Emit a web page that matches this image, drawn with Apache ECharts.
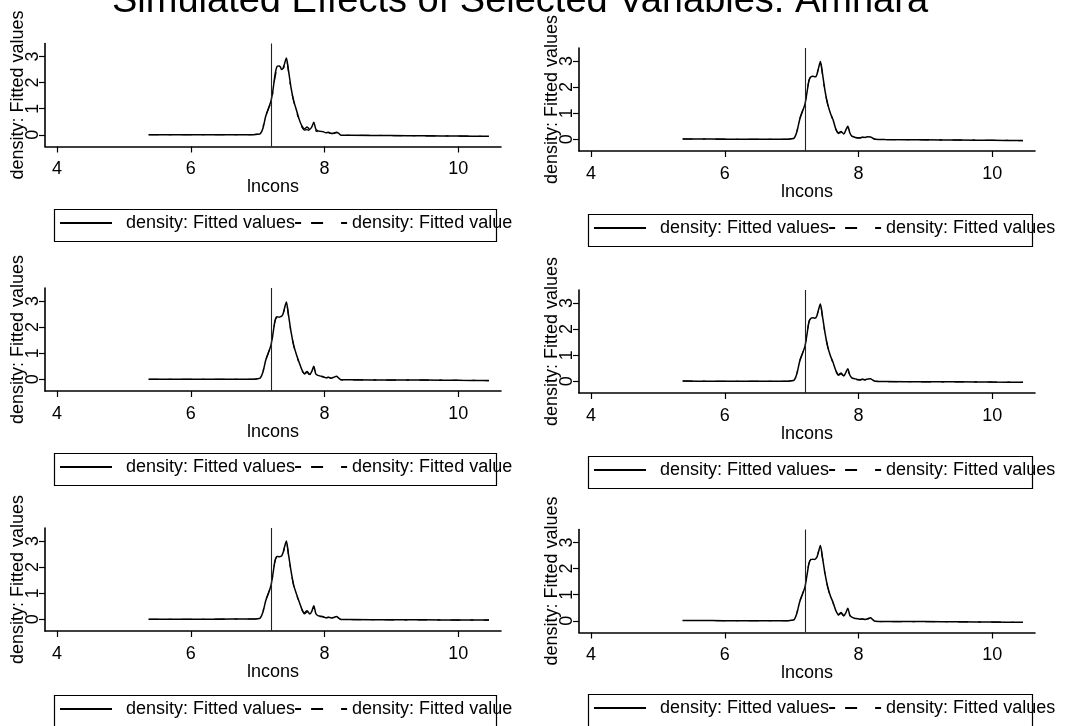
<!DOCTYPE html>
<html>
<head>
<meta charset="utf-8">
<script src="https://cdn.jsdelivr.net/npm/echarts@6/dist/echarts.min.js"></script>
<style>
html,body{margin:0;padding:0;background:#fff;}
#chart{width:1074px;height:726px;}
</style>
</head>
<body>
<div id="chart"></div>
<script>
// ---- data ----
const titleText = 'Simulated Effects of Selected Variables: Amhara';
const xAxisName = 'lncons';
const yAxisName = 'density: Fitted values';
const xTicks = [4, 6, 8, 10];
const yTicks = [0, 1, 2, 3];
const refLineX = 7.2;
const legendLeftCol = ['density: Fitted values', 'density: Fitted value'];
const legendRightCol = ['density: Fitted values', 'density: Fitted values'];

const xVals = [5.37, 5.8, 6.2, 6.6, 6.9, 7.0, 7.04, 7.08, 7.12, 7.16, 7.2, 7.23, 7.26, 7.29, 7.32, 7.34, 7.36, 7.38, 7.40, 7.43, 7.46, 7.50, 7.54, 7.58, 7.62, 7.66, 7.70, 7.74, 7.78, 7.81, 7.84, 7.87, 7.90, 7.94, 7.98, 8.02, 8.06, 8.10, 8.14, 8.18, 8.21, 8.25, 8.4, 9.0, 9.5, 10.0, 10.46];

const p1Solid = [0, 0, 0, 0, 0, 0.02, 0.04, 0.25, 0.7, 1.0, 1.3, 1.72, 2.3, 2.62, 2.64, 2.6, 2.5, 2.55, 2.7, 2.94, 2.5, 1.8, 1.3, 0.95, 0.6, 0.35, 0.22, 0.3, 0.2, 0.3, 0.48, 0.22, 0.15, 0.13, 0.12, 0.08, 0.1, 0.05, 0.06, 0.1, 0.06, -0.02, -0.02, -0.03, -0.04, -0.05, -0.06];
const p1Dash = [0, 0, 0, 0, 0, 0.03, 0.06, 0.3, 0.72, 0.98, 1.25, 1.65, 2.2, 2.45, 2.42, 2.4, 2.45, 2.5, 2.65, 2.9, 2.45, 1.75, 1.28, 0.9, 0.55, 0.3, 0.18, 0.2, 0.15, 0.18, 0.3, 0.15, 0.12, 0.1, 0.1, 0.07, 0.08, 0.05, 0.05, 0.08, 0.04, -0.02, -0.02, -0.03, -0.04, -0.05, -0.06];

const p2Solid = [0.01, 0.01, 0, 0, 0, 0.02, 0.05, 0.3, 0.75, 1.05, 1.35, 1.8, 2.25, 2.4, 2.42, 2.4, 2.4, 2.5, 2.7, 2.98, 2.55, 1.85, 1.35, 1.0, 0.75, 0.4, 0.25, 0.3, 0.2, 0.35, 0.5, 0.25, 0.12, 0.08, 0.06, 0.05, 0.08, 0.07, 0.1, 0.09, 0.05, 0.0, -0.01, -0.02, -0.03, -0.04, -0.05];
const p2Dash = [0.01, 0.01, 0, 0, 0, 0.02, 0.05, 0.32, 0.78, 1.08, 1.38, 1.82, 2.28, 2.42, 2.44, 2.42, 2.42, 2.52, 2.72, 2.96, 2.52, 1.82, 1.32, 0.98, 0.72, 0.38, 0.22, 0.26, 0.18, 0.3, 0.45, 0.22, 0.1, 0.07, 0.05, 0.05, 0.07, 0.06, 0.09, 0.08, 0.04, 0.0, -0.01, -0.02, -0.03, -0.04, -0.05];

const p3Solid = [0, 0, 0, 0, 0, 0.02, 0.05, 0.28, 0.72, 1.0, 1.32, 1.75, 2.25, 2.4, 2.38, 2.4, 2.42, 2.5, 2.7, 2.96, 2.5, 1.82, 1.3, 0.95, 0.65, 0.38, 0.22, 0.3, 0.18, 0.3, 0.5, 0.2, 0.15, 0.12, 0.1, 0.06, 0.08, 0.04, 0.08, 0.12, 0.05, -0.02, -0.02, -0.03, -0.03, -0.04, -0.05];
const p3Dash = [0, 0, 0, 0, 0, 0.02, 0.06, 0.3, 0.74, 1.02, 1.3, 1.72, 2.22, 2.36, 2.36, 2.38, 2.4, 2.48, 2.68, 2.93, 2.47, 1.8, 1.28, 0.93, 0.62, 0.35, 0.2, 0.26, 0.16, 0.26, 0.44, 0.18, 0.13, 0.1, 0.09, 0.06, 0.07, 0.04, 0.07, 0.1, 0.04, -0.02, -0.02, -0.03, -0.03, -0.04, -0.05];

const p4Solid = [0.01, 0, 0, 0, 0, 0.02, 0.05, 0.3, 0.76, 1.05, 1.35, 1.8, 2.28, 2.42, 2.44, 2.42, 2.43, 2.52, 2.72, 2.96, 2.52, 1.85, 1.33, 0.98, 0.72, 0.42, 0.25, 0.32, 0.2, 0.33, 0.48, 0.24, 0.13, 0.1, 0.07, 0.05, 0.08, 0.06, 0.09, 0.1, 0.05, 0.0, -0.01, -0.02, -0.02, -0.03, -0.04];
const p4Dash = [0.01, 0, 0, 0, 0, 0.02, 0.05, 0.32, 0.78, 1.07, 1.37, 1.82, 2.3, 2.44, 2.46, 2.44, 2.45, 2.54, 2.74, 2.94, 2.5, 1.83, 1.31, 0.96, 0.7, 0.4, 0.23, 0.28, 0.18, 0.29, 0.43, 0.21, 0.11, 0.09, 0.06, 0.05, 0.07, 0.05, 0.08, 0.09, 0.04, 0.0, -0.01, -0.02, -0.02, -0.03, -0.04];

const p5Solid = [0, 0, 0, 0.01, 0.01, 0.02, 0.05, 0.28, 0.7, 0.98, 1.3, 1.75, 2.25, 2.41, 2.4, 2.41, 2.43, 2.55, 2.75, 3.0, 2.52, 1.85, 1.3, 0.98, 0.68, 0.4, 0.24, 0.33, 0.2, 0.3, 0.52, 0.22, 0.14, 0.12, 0.1, 0.06, 0.08, 0.05, 0.07, 0.11, 0.05, -0.01, -0.01, -0.02, -0.02, -0.03, -0.03];
const p5Dash = [0, 0, 0, 0.01, 0.01, 0.02, 0.06, 0.3, 0.72, 1.0, 1.28, 1.72, 2.22, 2.38, 2.38, 2.4, 2.42, 2.53, 2.72, 2.97, 2.5, 1.82, 1.28, 0.95, 0.65, 0.37, 0.21, 0.28, 0.17, 0.26, 0.45, 0.19, 0.12, 0.1, 0.09, 0.06, 0.07, 0.05, 0.06, 0.09, 0.04, -0.01, -0.01, -0.02, -0.02, -0.03, -0.03];

const p6Solid = [0.01, 0.01, 0, 0, 0, 0.02, 0.05, 0.3, 0.72, 1.0, 1.3, 1.75, 2.2, 2.35, 2.36, 2.35, 2.38, 2.45, 2.62, 2.89, 2.45, 1.8, 1.3, 0.95, 0.7, 0.4, 0.24, 0.32, 0.2, 0.3, 0.48, 0.22, 0.14, 0.1, 0.08, 0.06, 0.07, 0.05, 0.08, 0.12, 0.05, -0.02, -0.03, -0.03, -0.04, -0.05, -0.06];
const p6Dash = [0.01, 0.01, 0, 0, 0, 0.02, 0.05, 0.32, 0.74, 1.02, 1.32, 1.77, 2.22, 2.37, 2.38, 2.37, 2.4, 2.47, 2.64, 2.87, 2.43, 1.78, 1.28, 0.93, 0.68, 0.38, 0.22, 0.28, 0.18, 0.27, 0.42, 0.2, 0.12, 0.09, 0.07, 0.06, 0.06, 0.05, 0.07, 0.1, 0.04, -0.02, -0.03, -0.03, -0.04, -0.05, -0.06];

const panelData = [
  [p1Solid, p1Dash], [p2Solid, p2Dash],
  [p3Solid, p3Dash], [p4Solid, p4Dash],
  [p5Solid, p5Dash], [p6Solid, p6Dash]
];

// ---- layout ----
const FONT = '"Liberation Sans", Arial, Helvetica, sans-serif';
const panels = [
  {left: 45,  top: 43.5, legendLeft: 52,  legendTop: 207, col: 0},
  {left: 579, top: 48,   legendLeft: 586, legendTop: 212, col: 1},
  {left: 45,  top: 288,  legendLeft: 52,  legendTop: 451, col: 0},
  {left: 579, top: 290,  legendLeft: 586, legendTop: 454, col: 1},
  {left: 45,  top: 528,  legendLeft: 52,  legendTop: 693, col: 0},
  {left: 579, top: 529.5,legendLeft: 586, legendTop: 692, col: 1}
];
const GRID_W = 456, GRID_H = 103;
const FRAME_W = [442, 444], FRAME_H = 32;
const SOLID_ICON = 'path://M0,0h52v2h-52z';
const DASH_ICON = 'path://M0,0h6v2h-6z M16,0h12v2h-12z M46,0h6v2h-6z';

const grid = [], xAxis = [], yAxis = [], series = [], legend = [], graphic = [];
panels.forEach((p, i) => {
  grid.push({left: p.left, top: p.top, width: GRID_W, height: GRID_H, containLabel: false});
  xAxis.push({
    type: 'value', gridIndex: i, min: 3.82, max: 10.64,
    name: xAxisName, nameLocation: 'middle', nameGap: 32, nameMoveOverlap: false,
    nameTextStyle: {fontSize: 18, color: '#000', fontFamily: FONT},
    axisLine: {show: true, onZero: false, lineStyle: {color: '#000', width: 1.6}},
    axisTick: {show: true, length: 6, customValues: xTicks, lineStyle: {color: '#000', width: 1.2}},
    axisLabel: {show: true, customValues: xTicks, fontSize: 18, color: '#000', margin: 14, fontFamily: FONT},
    splitLine: {show: false}
  });
  yAxis.push({
    type: 'value', gridIndex: i, min: -0.45, max: 3.5,
    name: yAxisName, nameLocation: 'middle', nameGap: 18, nameMoveOverlap: false,
    nameTextStyle: {fontSize: 18, color: '#000', fontFamily: FONT},
    axisLine: {show: true, onZero: false, lineStyle: {color: '#000', width: 1.6}},
    axisTick: {show: true, length: 6, customValues: yTicks, lineStyle: {color: '#000', width: 1.2}},
    axisLabel: {show: true, customValues: yTicks, rotate: 90, fontSize: 18, color: '#000', margin: 3, fontFamily: FONT},
    splitLine: {show: false}
  });
  const [solid, dash] = panelData[i];
  const nA = 'fitA' + i, nB = 'fitB' + i;
  series.push({
    name: nA, type: 'line', xAxisIndex: i, yAxisIndex: i,
    data: xVals.map((x, k) => [x, solid[k]]),
    showSymbol: false, symbol: 'none', smooth: 0.25,
    lineStyle: {color: '#000', width: 1.5, type: 'solid'},
    itemStyle: {color: '#000'},
    animation: false, silent: true,
    markLine: {
      silent: true, symbol: ['none', 'none'], animation: false,
      label: {show: false},
      lineStyle: {color: '#222', width: 1.1, type: 'solid'},
      data: [{xAxis: refLineX}]
    }
  });
  series.push({
    name: nB, type: 'line', xAxisIndex: i, yAxisIndex: i,
    data: xVals.map((x, k) => [x, dash[k]]),
    showSymbol: false, symbol: 'none', smooth: 0.25,
    lineStyle: {color: '#000', width: 1.2, type: [10, 10, 3, 10]},
    itemStyle: {color: '#000'},
    animation: false, silent: true
  });
  const labels = p.col === 0 ? legendLeftCol : legendRightCol;
  legend.push({
    left: p.legendLeft, top: p.legendTop, width: 700,
    orient: 'horizontal', itemGap: 0, itemWidth: 52, itemHeight: 2,
    padding: [7, 8, 7, 8],
    selectedMode: false,
    itemStyle: {color: '#000', borderWidth: 0},
    textStyle: {fontSize: 18, color: '#000', fontFamily: FONT, padding: [0, 0, 0, 9]},
    data: [
      {name: nA, icon: SOLID_ICON},
      {name: nB, icon: DASH_ICON, textStyle: {padding: [0, 0, 0, 0]}}
    ],
    formatter: (name) => name === nA ? labels[0] : labels[1]
  });
  graphic.push({
    type: 'rect', silent: true, z: 100,
    left: p.legendLeft, top: p.legendTop,
    shape: {width: FRAME_W[p.col], height: FRAME_H},
    style: {fill: 'none', stroke: '#000', lineWidth: 1.2}
  });
});

const chart = echarts.init(document.getElementById('chart'), null, {renderer: 'canvas'});
chart.setOption({
  backgroundColor: '#fff',
  animation: false,
  title: {
    text: titleText, left: 107, top: -22,
    textStyle: {fontSize: 38, fontWeight: 'normal', color: '#000', fontFamily: FONT}
  },
  grid, xAxis, yAxis, series, legend, graphic
});
</script>
</body>
</html>
